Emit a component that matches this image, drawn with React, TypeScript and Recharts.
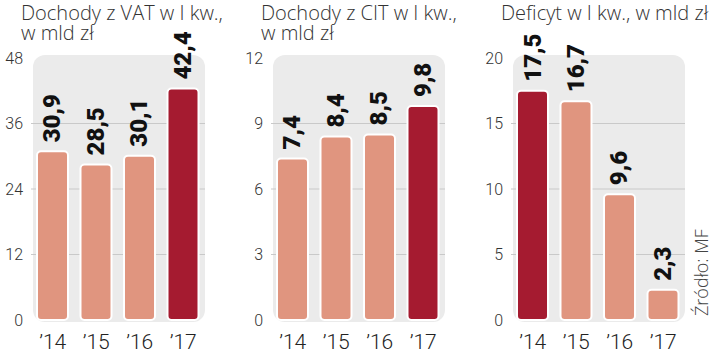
import { BarChart, Bar, XAxis, YAxis, CartesianGrid, Cell, LabelList } from 'recharts'

const years = ['’14', '’15', '’16', '’17']
const vatValues = [30.9, 28.5, 30.1, 42.4]
const citValues = [7.4, 8.4, 8.5, 9.8]
const deficitValues = [17.5, 16.7, 9.6, 2.3]
const vatTicks = [0, 12, 24, 36, 48]
const citTicks = [0, 3, 6, 9, 12]
const deficitTicks = [0, 5, 10, 15, 20]
const vatTitle = ['Dochody z VAT w I kw.,', 'w mld zł']
const citTitle = ['Dochody z CIT w I kw.,', 'w mld zł']
const deficitTitle = ['Deficyt w I kw., w mld zł']
const sourceText = 'Źródło: MF'

const LIGHT = '#e0957f'
const DARK = '#a51b30'
const FONT = 'Roboto, "Open Sans", sans-serif'
const TITLE_FONT = '"Open Sans", Roboto, sans-serif'

const fmt = (v: number) => v.toFixed(1).replace('.', ',')

function ValueLabel(props: any) {
  const { x, y, width, value } = props
  const cx = Number(x) + Number(width) / 2
  const ty = Number(y) - 9
  return (
    <text
      x={cx}
      y={ty}
      transform={`rotate(-90 ${cx} ${ty})`}
      textAnchor="start"
      dominantBaseline="central"
      fontFamily={FONT}
      fontWeight={900}
      fontSize={24}
      fill="#111"
    >
      {fmt(Number(value))}
    </text>
  )
}

interface PanelProps {
  left: number
  title: string[]
  values: number[]
  ticks: number[]
  highlight: string
}

function Panel({ left, title, values, ticks, highlight }: PanelProps) {
  const data = years.map((year, i) => ({ year, value: values[i] }))
  const max = ticks[ticks.length - 1]
  return (
    <div style={{ position: 'absolute', left, top: 0, width: 240, height: 357 }}>
      {title.map((t, i) => (
        <div
          key={t}
          style={{
            position: 'absolute',
            left: 21,
            top: 3 + i * 20,
            fontFamily: TITLE_FONT,
            fontWeight: 300,
            fontSize: 20,
            lineHeight: '19px',
            color: '#333',
            whiteSpace: 'nowrap',
          }}
        >
          {t}
        </div>
      ))}
      <div
        style={{
          position: 'absolute',
          left: 33,
          top: 55,
          width: 172,
          height: 267,
          borderRadius: 12,
          background: '#ebebeb',
        }}
      />
      <div style={{ position: 'absolute', left: 0, top: 0 }}>
        <BarChart width={240} height={357} data={data} margin={{ top: 58, right: 35, bottom: 0, left: 0 }}>
          <CartesianGrid vertical={false} horizontalValues={ticks.slice(1, -1)} stroke="#c9c9c9" />
          <XAxis
            dataKey="year"
            axisLine={false}
            tickLine={false}
            height={37}
            tickMargin={8}
            tick={{ fontSize: 21, fill: '#222', fontFamily: FONT, fontWeight: 300 }}
          />
          <YAxis
            width={31}
            domain={[0, max]}
            ticks={ticks}
            axisLine={false}
            tickLine={false}
            tick={{ fontSize: 16, fill: '#333', fontFamily: FONT, fontWeight: 300 }}
          />
          <Bar dataKey="value" barSize={31} stroke="#fff" strokeWidth={2} radius={4} isAnimationActive={false}>
            {data.map((d) => (
              <Cell key={d.year} fill={d.year === highlight ? DARK : LIGHT} />
            ))}
            <LabelList dataKey="value" content={ValueLabel} />
          </Bar>
        </BarChart>
      </div>
    </div>
  )
}

export default function App() {
  return (
    <div style={{ position: 'absolute', left: 0, top: 0, width: 720, height: 357, background: '#fff' }}>
      <Panel left={0} title={vatTitle} values={vatValues} ticks={vatTicks} highlight={years[3]} />
      <Panel left={240} title={citTitle} values={citValues} ticks={citTicks} highlight={years[3]} />
      <Panel left={480} title={deficitTitle} values={deficitValues} ticks={deficitTicks} highlight={years[0]} />
      <svg width={720} height={357} style={{ position: 'absolute', left: 0, top: 0, pointerEvents: 'none' }}>
        <text
          x={701}
          y={316}
          transform="rotate(-90 701 316)"
          textAnchor="start"
          dominantBaseline="central"
          fontFamily={TITLE_FONT}
          fontWeight={300}
          fontSize={18}
          fill="#444"
        >
          {sourceText}
        </text>
      </svg>
    </div>
  )
}
